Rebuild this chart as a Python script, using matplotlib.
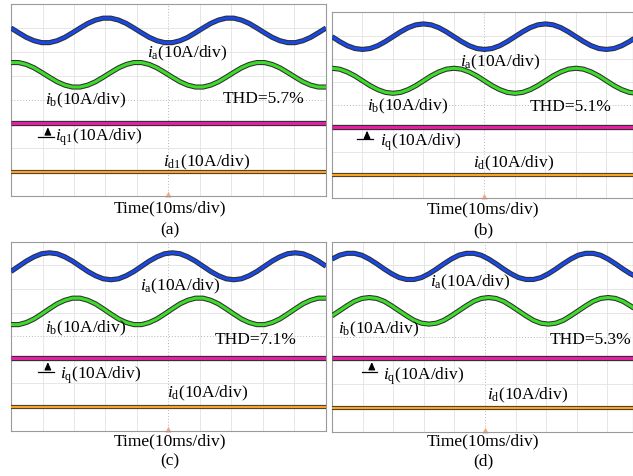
import numpy as np
import matplotlib
matplotlib.use("Agg")
import matplotlib.pyplot as plt
import matplotlib.patheffects as pe

plt.rcParams['font.family'] = ['Liberation Serif', 'DejaVu Serif']
plt.rcParams['mathtext.fontset'] = 'custom'
plt.rcParams['mathtext.rm'] = 'Liberation Serif'
plt.rcParams['mathtext.it'] = 'Liberation Serif:italic'

# ---- data (div units, 0..8 vertical) ----
t_a = np.linspace(0, 10, 42)
t_b = np.linspace(0, 10, 41)
t_c = np.linspace(0, 10, 42)
t_d = np.linspace(0, 10, 42)

ia_a = [7.00, 6.80, 6.61, 6.47, 6.39, 6.39, 6.47, 6.61, 6.80, 7.00, 7.19, 7.33, 7.41, 7.41, 7.33, 7.19,
        7.00, 6.80, 6.61, 6.47, 6.39, 6.39, 6.47, 6.61, 6.80, 7.00, 7.19, 7.33, 7.41, 7.41, 7.33, 7.19,
        7.00, 6.80, 6.61, 6.47, 6.39, 6.39, 6.47, 6.61, 6.80, 7.00]
ib_a = [5.56, 5.56, 5.48, 5.34, 5.15, 4.95, 4.76, 4.62, 4.54, 4.54, 4.62, 4.76, 4.95, 5.15, 5.34, 5.48,
        5.56, 5.56, 5.48, 5.34, 5.15, 4.95, 4.76, 4.62, 4.54, 4.54, 4.62, 4.76, 4.95, 5.15, 5.34, 5.48,
        5.56, 5.56, 5.48, 5.34, 5.15, 4.95, 4.76, 4.62, 4.54, 4.54]

ia_b = [6.95, 6.74, 6.56, 6.44, 6.40, 6.44, 6.56, 6.74, 6.95, 7.16, 7.34, 7.46, 7.50, 7.46, 7.34, 7.16,
        6.95, 6.74, 6.56, 6.44, 6.40, 6.44, 6.56, 6.74, 6.95, 7.16, 7.34, 7.46, 7.50, 7.46, 7.34, 7.16,
        6.95, 6.74, 6.56, 6.44, 6.40, 6.44, 6.56, 6.74, 6.95]
ib_b = [5.59, 5.55, 5.43, 5.26, 5.05, 4.84, 4.67, 4.55, 4.51, 4.55, 4.67, 4.84, 5.05, 5.26, 5.43, 5.55,
        5.59, 5.55, 5.43, 5.26, 5.05, 4.84, 4.67, 4.55, 4.51, 4.55, 4.67, 4.84, 5.05, 5.26, 5.43, 5.55,
        5.59, 5.55, 5.43, 5.26, 5.05, 4.84, 4.67, 4.55, 4.51]

ia_c = [6.74, 6.96, 7.18, 7.36, 7.49, 7.53, 7.49, 7.36, 7.18, 6.96, 6.74, 6.56, 6.43, 6.39, 6.43, 6.56,
        6.74, 6.96, 7.18, 7.36, 7.49, 7.53, 7.49, 7.36, 7.18, 6.96, 6.74, 6.56, 6.43, 6.39, 6.43, 6.56,
        6.74, 6.96, 7.18, 7.36, 7.49, 7.53, 7.49, 7.36, 7.18, 6.96]
ib_c = [4.49, 4.49, 4.58, 4.73, 4.94, 5.16, 5.37, 5.52, 5.61, 5.61, 5.52, 5.37, 5.16, 4.94, 4.73, 4.58,
        4.49, 4.49, 4.58, 4.73, 4.94, 5.16, 5.37, 5.52, 5.61, 5.61, 5.52, 5.37, 5.16, 4.94, 4.73, 4.58,
        4.49, 4.49, 4.58, 4.73, 4.94, 5.16, 5.37, 5.52, 5.61, 5.61]

ia_d = [7.27, 7.43, 7.51, 7.51, 7.43, 7.27, 7.07, 6.85, 6.65, 6.49, 6.41, 6.41, 6.49, 6.65, 6.85, 7.07,
        7.27, 7.43, 7.51, 7.51, 7.43, 7.27, 7.07, 6.85, 6.65, 6.49, 6.41, 6.41, 6.49, 6.65, 6.85, 7.07,
        7.27, 7.43, 7.51, 7.51, 7.43, 7.27, 7.07, 6.85, 6.65, 6.49]
ib_d = [4.88, 5.09, 5.30, 5.49, 5.61, 5.65, 5.61, 5.49, 5.30, 5.09, 4.88, 4.69, 4.57, 4.53, 4.57, 4.69,
        4.88, 5.09, 5.30, 5.49, 5.61, 5.65, 5.61, 5.49, 5.30, 5.09, 4.88, 4.69, 4.57, 4.53, 4.57, 4.69,
        4.88, 5.09, 5.30, 5.49, 5.61, 5.65, 5.61, 5.49, 5.30, 5.09]

iq_lvl = [3.03, 3.07, 3.07, 3.10]
id_lvl = [1.00, 0.99, 1.02, 1.00]
thd = ['5.7%', '5.1%', '7.1%', '5.3%']
tags = ['(a)', '(b)', '(c)', '(d)']
q_names = [r'$i_{\mathrm{q1}}$', r'$i_{\mathrm{q}}$', r'$i_{\mathrm{q}}$', r'$i_{\mathrm{q}}$']
d_names = [r'$i_{\mathrm{d1}}$', r'$i_{\mathrm{d}}$', r'$i_{\mathrm{d}}$', r'$i_{\mathrm{d}}$']

# ---- layout (pixels of the 633x477 picture) ----
W, H = 633, 477
boxes = [(11, 5, 326, 197), (332, 13.3, 633, 199), (11, 242.7, 326, 431.7), (332, 242.7, 633, 432.7)]
xmax = [10, 9.87, 10, 9.84]
# label anchors (x, y) in div units: ia, ib, THD, iq, id, ground marker x / bar y
lab = [
    dict(ia=(4.32, 6.0), ib=(1.08, 4.04), thd=(6.73, 4.08), iq=(1.40, 2.5), id=(4.83, 1.46), gnd=(1.17, 2.47)),
    dict(ia=(4.2, 5.9), ib=(1.15, 4.0), thd=(6.49, 3.97), iq=(1.57, 2.46), id=(4.62, 1.55), gnd=(1.15, 2.54)),
    dict(ia=(4.1, 6.14), ib=(1.08, 4.39), thd=(6.48, 3.89), iq=(1.56, 2.4), id=(4.95, 1.64), gnd=(1.17, 2.49)),
    dict(ia=(3.2, 6.32), ib=(0.2, 4.37), thd=(7.12, 3.9), iq=(1.67, 2.39), id=(5.07, 1.55), gnd=(1.30, 2.51)),
]
times = [t_a, t_b, t_c, t_d]
ias = [ia_a, ia_b, ia_c, ia_d]
ibs = [ib_a, ib_b, ib_c, ib_d]

blue = '#1848e6'
green = '#3ddc2a'
magenta = '#e61ea6'
orange = '#f7a324'
fs = 12.5

fig = plt.figure(figsize=(W / 100, H / 100), dpi=100)


def trace(ax, x, y, col, lw=2.2, edge=1.5):
    ax.plot(x, y, color=col, lw=lw, solid_capstyle='butt', zorder=3,
            path_effects=[pe.Stroke(linewidth=lw + edge, foreground='#303030'), pe.Normal()])


for i in range(4):
    x0, y0, x1, y1 = boxes[i]
    ax = fig.add_axes([x0 / W, 1 - y1 / H, (x1 - x0) / W, (y1 - y0) / H])
    ax.set_xlim(0, xmax[i])
    ax.set_ylim(0, 8)
    ax.set_xticks([])
    ax.set_yticks([])
    for s in ax.spines.values():
        s.set_color('#9a9a9a')
        s.set_linewidth(0.8)
    for gx in range(1, 10):
        if gx == 5:
            ax.axvline(gx, color='#b8b8b8', lw=0.7, ls=(0, (1, 2)), zorder=1)
        else:
            ax.axvline(gx, color='#e2e2e2', lw=0.6, zorder=1)
    for gy in range(1, 8):
        if gy == 4:
            ax.axhline(gy, color='#b8b8b8', lw=0.7, ls=(0, (1, 2)), zorder=1)
        else:
            ax.axhline(gy, color='#e2e2e2', lw=0.6, zorder=1)

    trace(ax, times[i], ias[i], blue)
    trace(ax, times[i], ibs[i], green)
    trace(ax, [0, 10], [iq_lvl[i]] * 2, magenta, lw=2.2, edge=1.6)
    trace(ax, [0, 10], [id_lvl[i]] * 2, orange, lw=1.7, edge=1.3)

    # trigger marker
    ax.plot([5], [0.08], marker='^', ms=4, color='#f4a98a', mec='none', zorder=2, clip_on=False)

    L = lab[i]
    gx, gy = L['gnd']
    ax.plot([gx - 0.32, gx + 0.18], [gy, gy], color='black', lw=0.9, zorder=4)
    ax.annotate('', xy=(gx, iq_lvl[i] - 0.05), xytext=(gx, gy),
                arrowprops=dict(arrowstyle='-|>,head_width=0.2,head_length=0.45', color='black', lw=0.9),
                zorder=4)

    ax.text(*L['ia'], r'$i_{\mathrm{a}}$(10A/div)', fontsize=fs, va='center', ha='left', zorder=5)
    ax.text(*L['ib'], r'$i_{\mathrm{b}}$(10A/div)', fontsize=fs, va='center', ha='left', zorder=5)
    ax.text(*L['thd'], 'THD=' + thd[i], fontsize=fs, va='center', ha='left', zorder=5)
    ax.text(*L['iq'], q_names[i] + '(10A/div)', fontsize=fs, va='center', ha='left', zorder=5)
    ax.text(*L['id'], d_names[i] + '(10A/div)', fontsize=fs, va='center', ha='left', zorder=5)

# captions below each scope
cap_x = [170, 483, 170, 483]
time_y = [208, 209, 441.7, 441.7]
tag_y = [230, 230, 461.7, 461.7]
for i in range(4):
    fig.text(cap_x[i] / W, 1 - time_y[i] / H, 'Time(10ms/div)', fontsize=fs, ha='center', va='center')
    fig.text(cap_x[i] / W, 1 - tag_y[i] / H, tags[i], fontsize=fs, ha='center', va='center')

fig.savefig('out.png', dpi=100)
